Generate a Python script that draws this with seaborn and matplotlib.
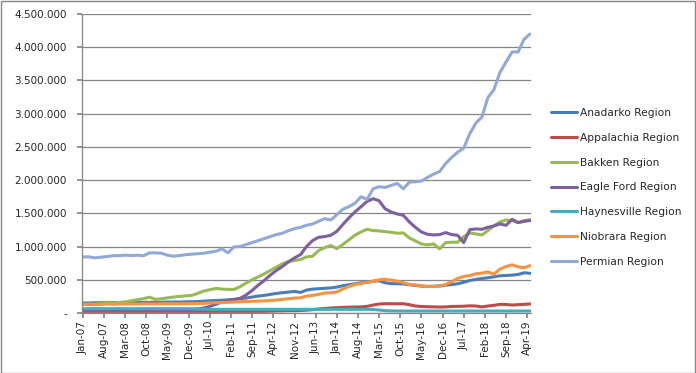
import matplotlib
matplotlib.use("Agg")

import matplotlib.pyplot as plt
import matplotlib.ticker as mticker
import matplotlib.dates as mdates
from matplotlib.patches import Rectangle
import pandas as pd
import seaborn as sns

# bimonthly readings (Jan-07, Mar-07, ... May-19), thousands of units
REGIONS = ["Anadarko Region", "Appalachia Region", "Bakken Region", "Eagle Ford Region",
           "Haynesville Region", "Niobrara Region", "Permian Region"]
COLORS = ["#4A7EBB", "#BE4B48", "#98B954", "#7D60A0", "#46AAC5", "#F69240", "#91A9D6"]

ANADARKO = [150, 150, 155, 155, 155, 158, 158, 160, 160, 160, 160, 160, 162, 162, 165, 165,
            165, 168, 170, 172, 178, 185, 188, 192, 198, 205, 215, 225, 240, 255, 265, 280,
            295, 305, 315, 325, 310, 345, 360, 365, 372, 377, 390, 410, 425, 440, 455, 462,
            478, 485, 455, 442, 440, 437, 425, 415, 405, 400, 402, 410, 418, 428, 440, 462,
            490, 505, 520, 530, 545, 560, 565, 570, 580, 605, 597]
APPALACHIA = [25, 25, 25, 25, 25, 25, 25, 25, 25, 25, 25, 25, 25, 25, 25, 25,
              25, 25, 25, 25, 25, 25, 25, 25, 25, 25, 25, 25, 25, 25, 25, 28,
              30, 32, 35, 35, 38, 42, 50, 60, 68, 75, 80, 85, 88, 90, 92, 100,
              120, 135, 140, 140, 138, 140, 125, 105, 98, 95, 92, 90, 92, 98, 100, 102,
              108, 105, 92, 105, 115, 130, 128, 120, 125, 130, 136]
BAKKEN = [130, 132, 135, 140, 148, 152, 158, 165, 185, 200, 215, 238, 205, 215, 228, 240,
          250, 258, 265, 295, 330, 350, 370, 360, 355, 355, 395, 450, 500, 545, 590, 640,
          690, 740, 775, 790, 805, 845, 855, 940, 985, 1015, 970, 1030, 1100, 1170, 1220, 1260,
          1240, 1235, 1225, 1215, 1200, 1205, 1130, 1085, 1040, 1025, 1040, 965, 1060, 1065, 1065, 1150,
          1205, 1190, 1175, 1240, 1310, 1370, 1400, 1390, 1360, 1390, 1405]
EAGLE_FORD = [45, 45, 45, 45, 45, 45, 45, 45, 45, 45, 45, 45, 45, 45, 45, 45,
              45, 45, 50, 60, 75, 100, 130, 170, 190, 200, 220, 270, 340, 420, 490, 570,
              640, 700, 770, 830, 880, 1000, 1090, 1140, 1150, 1170, 1230, 1330, 1430, 1520, 1600, 1680,
              1720, 1690, 1570, 1520, 1490, 1470, 1370, 1290, 1220, 1185, 1175, 1180, 1210, 1180, 1170, 1060,
              1255, 1265, 1260, 1290, 1310, 1340, 1320, 1410, 1360, 1380, 1392]
HAYNESVILLE = [65, 65, 66, 66, 65, 65, 66, 66, 65, 65, 65, 66, 66, 65, 65, 65,
               65, 65, 64, 62, 58, 55, 55, 55, 55, 55, 55, 55, 55, 55, 55, 55,
               55, 55, 55, 55, 55, 55, 55, 55, 55, 55, 55, 55, 55, 55, 55, 55,
               52, 45, 35, 32, 30, 30, 30, 30, 30, 30, 30, 30, 30, 30, 30, 30,
               30, 30, 30, 30, 30, 30, 30, 30, 30, 30, 30]
NIOBRARA = [125, 130, 128, 130, 135, 130, 135, 135, 135, 135, 138, 138, 138, 140, 140, 140,
            140, 140, 142, 142, 145, 150, 155, 158, 160, 165, 170, 172, 175, 178, 182, 188,
            195, 205, 215, 225, 228, 255, 265, 280, 300, 305, 318, 360, 400, 430, 445, 462,
            478, 500, 508, 495, 480, 455, 430, 422, 408, 400, 400, 402, 430, 470, 520, 550,
            565, 590, 600, 618, 585, 660, 700, 725, 695, 680, 712]
PERMIAN = [845, 845, 830, 840, 850, 862, 865, 870, 865, 870, 862, 905, 905, 900, 870, 855,
           865, 878, 885, 892, 900, 915, 930, 965, 905, 995, 1000, 1030, 1060, 1090, 1120, 1150,
           1180, 1200, 1240, 1270, 1290, 1320, 1340, 1380, 1420, 1400, 1480, 1560, 1600, 1650, 1750, 1710,
           1870, 1900, 1890, 1920, 1950, 1870, 1970, 1975, 1985, 2040, 2090, 2130, 2250, 2340, 2420, 2480,
           2700, 2860, 2950, 3240, 3360, 3620, 3780, 3930, 3930, 4120, 4200]

DATES = pd.date_range("2007-01-01", "2019-05-01", freq="2MS")
TICK_DATES = pd.date_range("2007-01-01", "2019-04-01", freq="7MS")

GRID = "#868686"


def build_frame() -> pd.DataFrame:
    series = [ANADARKO, APPALACHIA, BAKKEN, EAGLE_FORD, HAYNESVILLE, NIOBRARA, PERMIAN]
    parts = []
    for name, values in zip(REGIONS, series):
        assert len(values) == len(DATES), (name, len(values))
        parts.append(pd.DataFrame({"date": DATES, "value": [v * 1000 for v in values], "region": name}))
    return pd.concat(parts, ignore_index=True)


def main() -> None:
    sns.set_theme(style="white")
    plt.rcParams["font.family"] = ["DejaVu Sans"]

    df = build_frame()

    fig = plt.figure(figsize=(6.96, 3.73), dpi=100)
    ax = fig.add_axes([81.5 / 696, 1 - 313 / 373, (531 - 81.5) / 696, (313 - 14) / 373])

    sns.lineplot(data=df, x="date", y="value", hue="region", hue_order=REGIONS,
                 palette=COLORS, linewidth=2.2, ax=ax)

    ax.set_ylim(0, 4_500_000)
    ax.set_xlim(pd.Timestamp("2006-12-17"), pd.Timestamp("2019-05-10"))
    ax.yaxis.set_major_locator(mticker.MultipleLocator(500_000))
    ax.yaxis.set_major_formatter(mticker.FuncFormatter(
        lambda v, _: "-" if v == 0 else f"{int(v):,}".replace(",", ".")))
    ax.set_xticks(TICK_DATES)
    ax.xaxis.set_major_formatter(mdates.DateFormatter("%b-%y"))
    ax.tick_params(axis="x", rotation=90, labelsize=7.5, length=3.5, color=GRID, direction="out",
                   bottom=True, pad=2)
    ax.tick_params(axis="y", labelsize=7.5, length=3.5, color=GRID, direction="out", left=True, pad=7)
    ax.grid(axis="y", color=GRID, linewidth=0.9)
    ax.grid(axis="x", visible=False)
    ax.set_axisbelow(True)
    for side in ["top", "right"]:
        ax.spines[side].set_visible(False)
    for side in ["left", "bottom"]:
        ax.spines[side].set_color(GRID)
        ax.spines[side].set_linewidth(0.9)
    ax.set_xlabel("")
    ax.set_ylabel("")

    handles, labels = ax.get_legend_handles_labels()
    ax.legend(handles, labels, loc="upper left", bbox_to_anchor=(551 / 696, 1 - 108 / 373),
              bbox_transform=fig.transFigure, frameon=False, fontsize=7.7, borderpad=0,
              borderaxespad=0, handlelength=2.4, handletextpad=0.35, labelspacing=1.38)

    fig.patches.append(Rectangle((0.5 / 696, 0.5 / 373), 1 - 1.5 / 696, 1 - 1.5 / 373, fill=False,
                                 edgecolor=GRID, linewidth=1.0, transform=fig.transFigure))

    fig.savefig("out.png", dpi=100)
    plt.close(fig)


if __name__ == "__main__":
    main()
